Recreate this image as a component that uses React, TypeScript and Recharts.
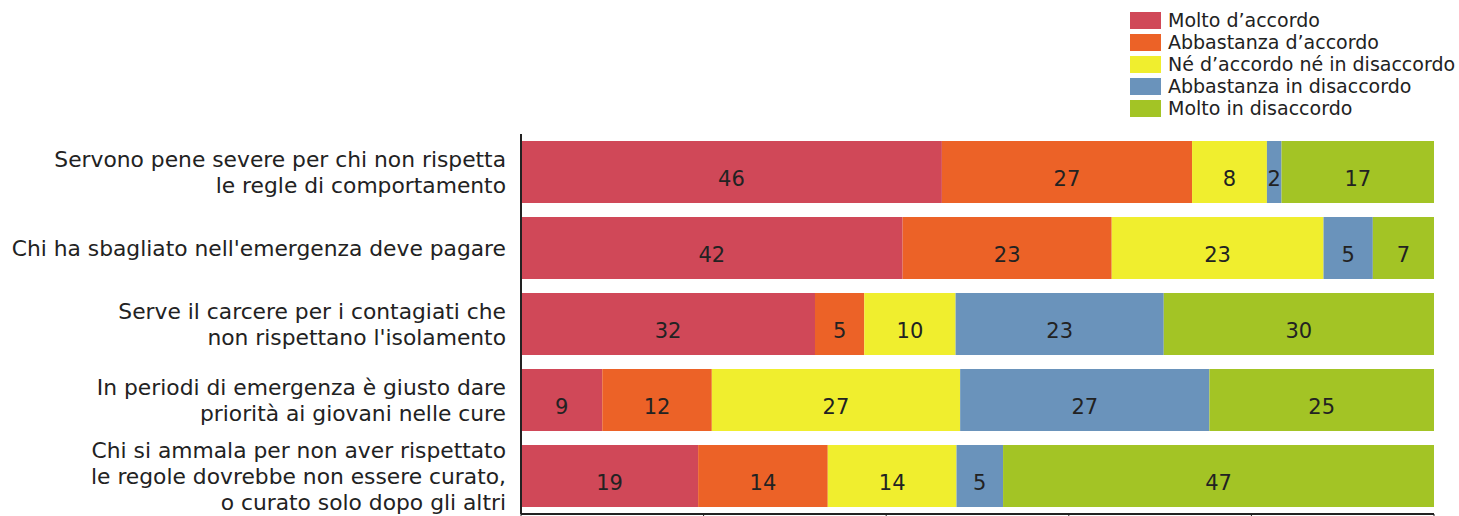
import { BarChart, Bar, XAxis, YAxis, LabelList } from "recharts";

const statements = [
  "Servono pene severe per chi non rispetta\nle regle di comportamento",
  "Chi ha sbagliato nell'emergenza deve pagare",
  "Serve il carcere per i contagiati che\nnon rispettano l'isolamento",
  "In periodi di emergenza è giusto dare\npriorità ai giovani nelle cure",
  "Chi si ammala per non aver rispettato\nle regole dovrebbe non essere curato,\no curato solo dopo gli altri",
];

const moltoAccordo = [46.1, 41.8, 32.2, 8.9, 19.4];
const abbastanzaAccordo = [27.4, 22.9, 5.4, 12.0, 14.2];
const neNe = [8.2, 23.2, 10.0, 27.2, 14.1];
const abbastanzaDisaccordo = [1.6, 5.4, 22.8, 27.3, 5.1];
const moltoDisaccordo = [16.7, 6.7, 29.6, 24.6, 47.2];

const xTicks = [0, 20, 40, 60, 80, 100];

const series = [
  { key: "molto_acc", name: "Molto d’accordo", color: "#D04858", values: moltoAccordo },
  { key: "abb_acc", name: "Abbastanza d’accordo", color: "#EC6227", values: abbastanzaAccordo },
  { key: "ne_ne", name: "Né d’accordo né in disaccordo", color: "#F0EE2E", values: neNe },
  { key: "abb_dis", name: "Abbastanza in disaccordo", color: "#6A93BB", values: abbastanzaDisaccordo },
  { key: "molto_dis", name: "Molto in disaccordo", color: "#A3C425", values: moltoDisaccordo },
];

const data = statements.map((name, i) => {
  const row: Record<string, string | number> = { name };
  series.forEach((s) => {
    row[s.key] = s.values[i];
  });
  return row;
});

const FONT = "'DejaVu Sans', Verdana, sans-serif";

// multi-line category labels, right aligned against the axis
const StatementTick = (props: any) => {
  const { x, y, payload } = props;
  const lines = String(payload.value).split("\n");
  const lh = 26;
  const start = -((lines.length - 1) * lh) / 2;
  return (
    <text x={x} y={y} textAnchor="end" fontFamily={FONT} fontSize={21.8} fill="#222">
      {lines.map((l, i) => (
        <tspan key={i} x={x} dy={i === 0 ? start + 7.5 : lh}>
          {l}
        </tspan>
      ))}
    </text>
  );
};

const LegendBox = () => (
  <div style={{ position: "absolute", left: 1130, top: 9, fontFamily: FONT, fontSize: 19, color: "#222" }}>
    {series.map((s) => (
      <div key={s.key} style={{ display: "flex", alignItems: "center", height: 22 }}>
        <span style={{ width: 31, height: 17, background: s.color, marginRight: 7, display: "inline-block" }} />
        <span style={{ whiteSpace: "nowrap", lineHeight: "22px" }}>{s.name}</span>
      </div>
    ))}
  </div>
);

const App = () => {
  return (
    <div style={{ position: "absolute", left: 0, top: 0, width: 1459, height: 560, background: "#fff" }}>
      <BarChart
        width={1459}
        height={560}
        data={data}
        layout="vertical"
        barCategoryGap={7}
        margin={{ top: 134, right: 25, bottom: 16, left: 0 }}
      >
        {/* tick values sit below the visible frame in the source, only the tick marks show */}
        <XAxis
          type="number"
          domain={[0, 100]}
          ticks={xTicks}
          height={30}
          axisLine={{ stroke: "#222", strokeWidth: 2 }}
          tickLine={{ stroke: "#222" }}
          tickSize={8}
          tick={() => <g />}
        />
        <YAxis
          type="category"
          dataKey="name"
          width={521}
          axisLine={{ stroke: "#222", strokeWidth: 2 }}
          tickLine={false}
          tickSize={0}
          tickMargin={15}
          tick={<StatementTick />}
          interval={0}
        />
        {series.map((s) => (
          <Bar key={s.key} dataKey={s.key} name={s.name} stackId="a" fill={s.color} isAnimationActive={false}>
            <LabelList
              dataKey={s.key}
              position="center"
              formatter={(v: any) => Math.round(Number(v))}
              fill="#222"
              fontSize={21}
              fontFamily={FONT}
              dy={7}
            />
          </Bar>
        ))}
      </BarChart>
      <LegendBox />
    </div>
  );
};

export default App;
